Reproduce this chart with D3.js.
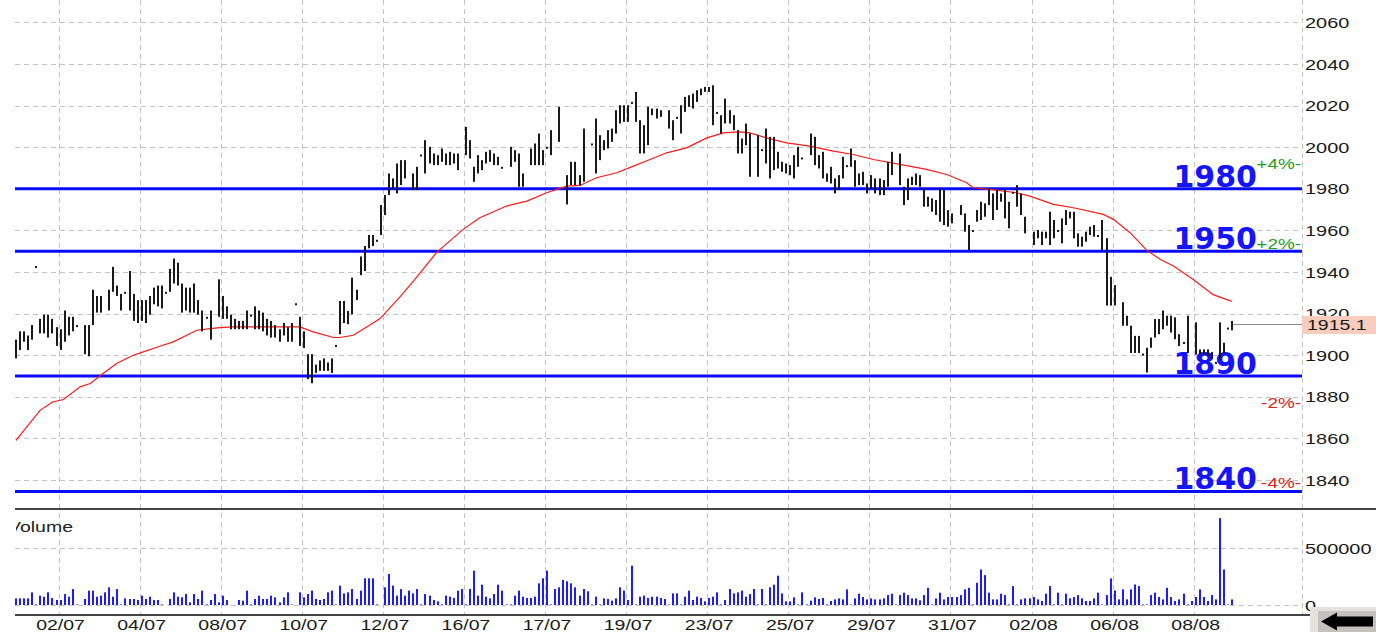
<!DOCTYPE html>
<html>
<head>
<meta charset="utf-8">
<script src="https://cdn.jsdelivr.net/npm/d3@7"></script>
<style>
  body { margin: 0; background: #fff; overflow: hidden; }
  text { font-family: "Liberation Sans", Arial, sans-serif; }
</style>
</head>
<body>
<div id="container"></div>
<script>
let w = 1376;
let h = 632;

// DATA
let dates = ["02/07", "04/07", "08/07", "10/07", "12/07", "16/07", "17/07", "19/07",
             "23/07", "25/07", "29/07", "31/07", "02/08", "06/08", "08/08"];
let priceTicks = [1840, 1860, 1880, 1900, 1920, 1940, 1960, 1980, 2000, 2020, 2040, 2060];
let levels = [1980, 1950, 1890, 1834.5];
let levelNames = ["1980", "1950", "1890", "1840"];
let pctMarks = [4, 2, -2, -4];
let lastPrice = 1915.1;
let volTicks = [0, 500000];

// hourly bars: [high, low], null = no bar
let priceBars = [
  [1907,1898],[1911,1902],[1911,1906],[1909,1902],[1914,1907],[1942.4,1942.4],[1917,1910],[1919,1910],[1919,1908],[1917,1910],
  [1913,1904],[1912,1902],[1921,1906],[1918,1909],[1918,1911],[1914,1914],null,[1914,1900],[1914,1899],[1931,1914],
  [1928,1920],[1928,1920],null,[1931,1921],[1942,1930],[1933,1928],[1929,1921],[1930,1930],[1940,1921],[1929,1916],
  [1926,1915],[1926,1916],[1926,1915],[1928,1919],[1932,1924],[1933,1923],[1933,1922],[1930,1930],[1941,1930],[1946,1934],
  [1944,1933],[1934,1920],[1932,1921],[1932,1920],[1934,1920],[1926,1919],[1921,1911],[1918,1918],[1921,1907],null,
  [1936,1918],[1928,1917],[1923,1917],[1919,1912],[1917,1912],[1916,1912],[1916,1912],[1921,1912],[1919,1919],[1923,1912],
  [1921,1912],[1920,1911],[1917,1909],[1916,1908],[1914,1908],[1912,1906],[1915,1909],[1913,1906],[1915,1906],[1924.5,1924.5],
  [1918,1904],[1911,1903],[1900,1888],[1900,1886],[1895,1891],[1897,1892],[1898,1892],[1896,1892],[1898,1891],[1904.4,1904.4],
  [1925.6,1909.6],[1925.6,1915],[1920.8,1914.4],[1936.8,1919.2],[1931,1926],[1947,1938],[1952,1940],[1957.3,1950.9],[1957.3,1952],[1955,1955],
  [1971.7,1957.3],[1976.5,1966.9],[1986.9,1976.5],[1984.5,1979.7],[1991.7,1977.3],[1993.3,1981.3],[1993.3,1984.5],null,[1986.9,1978.9],[1990.1,1978.9],
  [1996,1996],[2002.9,1986.9],[1999.7,1991.7],[1996.5,1990.9],[1995.7,1990.9],[1998.9,1992.5],[1996.5,1990.9],[1997.3,1990.9],[1996.5,1991.7],[1996.5,1988.5],
  null,[2009.3,1995.7],[2002.9,1994.1],[1990.1,1982.9],[1995.7,1986.9],[1993.3,1988.5],[1997.3,1991.7],[1998.1,1992.5],[1996.5,1990.9],[1994.9,1990.9],
  [1990.1,1990.1],null,[1999.7,1990.1],[1998.1,1992.5],[1996.5,1980.5],[1986.9,1980.5],null,[1998.9,1990.9],[2001.3,1990.9],[2006.1,1990.9],
  [1998.1,1990.9],[1999.7,1999.7],[2007.7,1995.7],null,[2018.9,2002.1],null,[1986.1,1972],[1992.5,1981.3],[1992.5,1981.3],[1986.1,1981.3],
  [2008.5,1982.9],null,[2001.3,2001.3],[2013.3,1986.9],[2005.3,1993.3],[2002.9,1998.1],[2007.7,1998.9],[2008.5,2002.1],[2017.3,2006.1],[2019.7,2010.9],
  [2019.7,2011.7],[2019.7,2011.7],[2021.3,2021.3],[2026.1,2011.7],[2012.5,1996.5],[2010.1,1996.5],[2018.9,2000.5],[2018.1,2014.9],[2018.1,2013.3],[2017.3,2014.1],
  null,[2017.3,2008.5],[2012.5,2002.9],[2014.1,2014.1],[2019.7,2006.1],[2023.7,2016.5],[2024.5,2018.9],[2025.3,2018.1],[2026.9,2021.3],[2027.7,2024.5],
  [2028.5,2026.1],[2028.5,2026.1],[2029.3,2010.1],[2016.5,2016.5],[2014.9,2006.1],[2022.9,2010.9],[2017.3,2010.9],[2014.9,2007.7],[2007.7,1996.5],[2003.7,1996.5],
  [2010.9,2000.5],[2006.1,1985.3],null,[2005.3,1985.3],[1998.6,1998.6],[2008.5,1991.7],[2004.5,1984.5],[2004.5,1988.5],[1997.3,1989.3],[1992.5,1987.7],
  [1991.7,1986.9],[1990.9,1986.1],[1995.7,1984.5],[1999.7,1990.1],[1994.6,1994.6],null,[2006.1,1995.7],[2004.5,1990.9],[1995.7,1989.3],[1997.3,1984.5],
  [1986.9,1982.9],[1990.1,1982.1],[1984.5,1977.3],[1986.1,1978.9],[1994.9,1984.5],[1990.9,1990.9],[1998.9,1990.1],[1993.3,1980.5],[1986.9,1981.3],[1987.7,1981.3],
  [1982.1,1977.3],[1986.1,1979.7],[1984.5,1977.3],[1984.5,1976.5],[1983.7,1976.5],[1992.5,1980.5],[1997.3,1986.1],null,[1996.5,1981.3],[1980.5,1971.7],
  [1984.5,1974.1],[1985.3,1981.3],[1986.9,1981.3],[1986.1,1980.5],[1979.7,1970.9],[1975.7,1970.9],[1974.9,1968.5],[1974.1,1966.9],[1979.7,1963.7],[1978.9,1962.1],
  [1969.3,1961.3],[1967.7,1962.9],null,[1971.7,1966.9],[1967.7,1958.9],[1962.1,1950.1],[1959.7,1959.7],[1969.3,1963.7],[1973.3,1964.5],[1972.5,1966.1],
  [1979.7,1971.7],[1977.3,1964.5],[1978.9,1969.3],[1977.3,1973.3],[1978.9,1965.3],[1973.3,1960.5],[1978.1,1978.1],[1981.3,1970.9],[1977.3,1966.9],[1966.1,1958.1],
  null,[1958.9,1952.5],[1959.7,1955.7],[1958.9,1952.5],[1958.9,1955.7],[1968.5,1952.5],[1964.5,1955.7],[1959.7,1959.7],[1965.3,1953.3],[1969.3,1962.1],
  [1968.5,1965.3],[1968.5,1955.7],[1958.1,1951.7],[1956.5,1951.7],[1958.9,1954.1],[1961.3,1957.3],[1962.1,1956.5],[1957.3,1957.3],[1964.5,1950.1],[1955.8,1923.4],
  [1937.2,1923.4],[1933.2,1923.4],null,[1925,1913.7],[1918.5,1913.7],[1913.7,1900.6],[1908.8,1900.6],[1908.8,1900.6],[1900.3,1900.3],[1903.1,1891.2],
  [1908,1903.1],[1916.9,1908],[1916.9,1909.6],[1921,1912],[1918.5,1913.7],[1918.5,1910.4],[1917.7,1907.2],[1909.6,1903.9],[1905.9,1905.9],[1918.5,1900.6],
  null,[1915.3,1899.8],[1902.3,1899.8],[1902.3,1899.8],[1902.3,1899],[1901,1897.8],[1896.3,1896.3],[1915.3,1897.4],[1905.5,1900.6],[1912.8,1912.8],
  [1916,1911.5]
];

// volume per bar, thousands
let volumes = [
  58,58,58,58,111,5,82,73,111,61,
  44,44,96,73,140,5,0,53,126,126,
  73,82,111,155,73,140,5,58,53,53,
  44,82,53,73,44,44,5,0,53,111,
  73,67,96,23,96,53,126,5,44,96,
  23,82,44,0,0,44,38,126,5,53,
  82,53,53,82,67,23,67,111,5,0,
  111,67,96,126,53,44,53,111,126,5,
  170,102,111,140,53,126,234,234,234,5,
  0,155,272,170,82,140,82,126,102,140,
  5,96,82,44,32,5,82,73,61,126,
  140,5,140,301,82,178,73,58,96,178,
  126,5,5,82,126,73,61,61,73,190,
  234,301,5,140,155,219,208,190,155,82,
  140,120,5,73,5,58,53,38,58,155,
  126,44,345,5,73,82,61,73,73,61,
  53,5,102,102,5,73,126,44,73,61,
  32,61,73,111,5,44,140,102,111,126,
  73,96,140,5,140,5,155,178,257,102,
  32,32,67,5,111,5,38,67,53,62,
  5,35,49,58,49,137,5,58,99,70,
  49,58,49,49,58,87,99,5,87,108,
  87,58,58,41,87,151,5,58,108,49,
  70,70,70,87,137,151,5,195,311,262,
  108,49,49,99,87,5,166,5,49,58,
  58,70,49,35,99,166,5,108,5,99,
  58,70,87,58,35,35,58,108,5,87,
  233,128,49,137,49,137,180,166,5,5,
  87,108,70,49,151,70,35,49,99,5,
  35,70,137,70,35,87,49,762,311,5,
  49
];

// moving average, [bar, value]
let maPoints = [
  [0,1859],[3,1866.4],[6,1873.6],[9,1877.5],[11.7,1878.7],[15.8,1884.8],[18.3,1886.4],[21.5,1891.2],
  [24.8,1896],[28.9,1900],[31.4,1901.6],[35.5,1904.3],[38.8,1906.4],[42.1,1909.6],[44.6,1912],[47.9,1912.8],
  [50.3,1913.3],[53.6,1913.6],[61.8,1913.6],[66.8,1913.6],[70,1913.6],[73.3,1911.2],[78.3,1908.5],[79.9,1908.5],
  [83.2,1909.6],[86.5,1913.6],[89.8,1917.6],[94.7,1928],[98.4,1936.5],[103.7,1949.3],[110.3,1960.5],[114.4,1966.1],
  [121,1971.7],[126,1974.1],[130.9,1978.1],[135.8,1981.3],[139.1,1981.6],[143.2,1985.3],[148.2,1987.7],[152.3,1990.9],
  [156.4,1994.1],[160.5,1997.3],[165.4,1999.7],[170.4,2004.5],[174.5,2006.9],[178.6,2007.4],[181,2006.9],[185.1,2004.5],
  [190.1,2002.1],[195.8,2000.5],[201.6,1998.1],[206.5,1996.5],[211.5,1994.1],[218,1991.7],[224.6,1989.3],[229.6,1986.9],
  [234.5,1982.9],[236.1,1980.5],[240.2,1979.7],[246.8,1978.1],[250.1,1976.5],[255.9,1972.5],[260.8,1970.9],[268.2,1967.7],
  [270.7,1965.3],[274.8,1958.9],[278.9,1950.5],[282.2,1946.1],[285.5,1942.9],[290.4,1936.4],[295.3,1929.1],[299.9,1925.9]
];

// SVG
let viz = d3.select("#container").append("svg")
    .attr("width", w)
    .attr("height", h)
    .style("display", "block")
    .style("background-color", "white");

let left = 15;
let right = 1302;

// SCALES
let xScale = d3.scaleLinear().domain([0, 300]).range([16, 1232.2]);
let yScale = d3.scaleLinear().domain([1840, 2060]).range([480, 22.4]);
let vScale = d3.scaleLinear().domain([0, 500000]).range([605, 548]);

// day boundaries sit every 20 bars
let dateSlot = function(i){ return 10.5 + i * 20; };

// stretched text (the chart font is wide)
function stretchText(g, x, y, str, anchor, sx){
  return g.append("text")
    .attr("transform", "translate(" + x + "," + y + ") scale(" + sx + ",1)")
    .attr("text-anchor", anchor)
    .text(str);
}

// GRID
let grid = viz.append("g")
    .attr("stroke", "#c4c4c4")
    .attr("stroke-width", 1)
    .attr("stroke-dasharray", "5,4");

grid.selectAll(".vgrid").data(dates).enter()
  .append("line")
    .attr("class", "vgrid")
    .attr("x1", function(d, i){ return Math.round(xScale(dateSlot(i))) + 0.5; })
    .attr("x2", function(d, i){ return Math.round(xScale(dateSlot(i))) + 0.5; })
    .attr("y1", 0)
    .attr("y2", 615);

grid.append("line")
    .attr("x1", right + 0.5).attr("x2", right + 0.5)
    .attr("y1", 0).attr("y2", 615);

grid.selectAll(".hgrid").data(priceTicks).enter()
  .append("line")
    .attr("class", "hgrid")
    .attr("x1", left).attr("x2", right)
    .attr("y1", function(d){ return Math.round(yScale(d)) + 0.5; })
    .attr("y2", function(d){ return Math.round(yScale(d)) + 0.5; });

grid.selectAll(".vhgrid").data(volTicks).enter()
  .append("line")
    .attr("class", "vhgrid")
    .attr("x1", left).attr("x2", right)
    .attr("y1", function(d){ return Math.round(vScale(d)) + 0.5; })
    .attr("y2", function(d){ return Math.round(vScale(d)) + 0.5; });

// panel separators
viz.append("line")
    .attr("x1", left).attr("x2", w)
    .attr("y1", 509).attr("y2", 509)
    .attr("stroke", "#444").attr("stroke-width", 2);
viz.append("line")
    .attr("x1", left).attr("x2", 1310)
    .attr("y1", 615).attr("y2", 615)
    .attr("stroke", "#444").attr("stroke-width", 2);

// SUPPORT / RESISTANCE LINES
viz.selectAll(".level").data(levels).enter()
  .append("line")
    .attr("class", "level")
    .attr("x1", left).attr("x2", right)
    .attr("y1", function(d){ return yScale(d); })
    .attr("y2", function(d){ return yScale(d); })
    .attr("stroke", "#0a0aff")
    .attr("stroke-width", 3);

viz.selectAll(".levelname").data(levels).enter()
  .append("text")
    .attr("class", "levelname")
    .attr("x", 1257)
    .attr("y", function(d){ return yScale(d) - 2; })
    .attr("text-anchor", "end")
    .style("font-family", "'DejaVu Sans', Verdana, sans-serif")
    .style("font-weight", "bold")
    .style("font-size", "30px")
    .attr("fill", "#1414ff")
    .text(function(d, i){ return levelNames[i]; });

// percent bands from the last price
let pctG = viz.append("g").style("font-size", "14px");
pctMarks.forEach(function(p){
  let t = stretchText(pctG, 1301, yScale(lastPrice * (1 + p / 100)) + 5,
      (p > 0 ? "+" : "-") + Math.abs(p) + "%-", "end", 1.35);
  t.attr("fill", p > 0 ? "#22a022" : "#dd2020");
});

// MOVING AVERAGE
let lineMaker = d3.line()
    .x(function(d){ return xScale(d[0]); })
    .y(function(d){ return yScale(d[1]); });

viz.append("path")
    .datum(maPoints)
    .attr("d", lineMaker)
    .attr("fill", "none")
    .attr("stroke", "#ff1a1a")
    .attr("stroke-width", 1.2);

// PRICE BARS
let bars = priceBars.map(function(d, i){ return d ? {i: i, hi: d[0], lo: d[1]} : null; })
    .filter(function(d){ return d; });

viz.selectAll(".bar").data(bars).enter()
  .append("rect")
    .attr("class", "bar")
    .attr("x", function(d){ return Math.round(xScale(d.i)) - 1; })
    .attr("y", function(d){ return yScale(d.hi) - 1; })
    .attr("width", 2)
    .attr("height", function(d){ return Math.max(2, yScale(d.lo) - yScale(d.hi)); })
    .attr("fill", "#1a1a1a");

// last price line + box
let lastY = yScale(lastPrice);
viz.append("line")
    .attr("x1", xScale(300) + 1).attr("x2", right)
    .attr("y1", Math.round(lastY) + 0.5).attr("y2", Math.round(lastY) + 0.5)
    .attr("stroke", "#8a8a8a").attr("stroke-width", 1);

// VOLUME
let volG = viz.append("g");
volG.selectAll(".vol").data(volumes).enter()
  .append("rect")
    .attr("class", "vol")
    .attr("x", function(d, i){ return Math.round(xScale(i)) - 1; })
    .attr("y", function(d){ return vScale(d * 1000); })
    .attr("width", 2)
    .attr("height", function(d){ return vScale(0) - vScale(d * 1000); })
    .attr("fill", "#1c1cff");

// "Volume" label, clipped at the panel edge
viz.append("clipPath").attr("id", "volclip")
  .append("rect").attr("x", 16).attr("y", 510).attr("width", 200).attr("height", 40);
let volLabel = viz.append("g").attr("clip-path", "url(#volclip)")
    .style("font-size", "15px").attr("fill", "#222");
stretchText(volLabel, 8, 532, "Volume", "start", 1.3);

// RIGHT AXIS
let axisG = viz.append("g").style("font-size", "15px").attr("fill", "#1a1a1a");
priceTicks.forEach(function(t){
  stretchText(axisG, 1305, yScale(t) + 5.5, String(t), "start", 1.33);
});
volTicks.forEach(function(t){
  stretchText(axisG, 1305, vScale(t) + 5.5, String(t), "start", 1.33);
});

// last price box
viz.append("rect")
    .attr("x", right).attr("y", Math.round(lastY) - 8)
    .attr("width", w - right).attr("height", 18)
    .attr("fill", "#f8cdbd");
let boxG = viz.append("g").style("font-size", "15px").attr("fill", "#1a1a1a");
stretchText(boxG, 1307, lastY + 6, lastPrice.toFixed(1), "start", 1.3);

// DATE AXIS
let dateG = viz.append("g").style("font-size", "15px").attr("fill", "#1a1a1a");
dates.forEach(function(d, i){
  stretchText(dateG, xScale(dateSlot(i)) + 2, 630, d, "middle", 1.3);
});

// scroll button bottom right
viz.append("rect")
    .attr("x", 1310).attr("y", 607).attr("width", 66).attr("height", 25)
    .attr("fill", "#e4e2de");
viz.append("rect")
    .attr("x", 1318).attr("y", 611).attr("width", 58).attr("height", 21)
    .attr("fill", "#c4c2be");
viz.append("path")
    .attr("d", "M1321,621.5 L1337,612.5 L1337,616.5 L1373,616.5 L1373,626.5 L1337,626.5 L1337,630.5 Z")
    .attr("fill", "#000");
</script>
</body>
</html>
